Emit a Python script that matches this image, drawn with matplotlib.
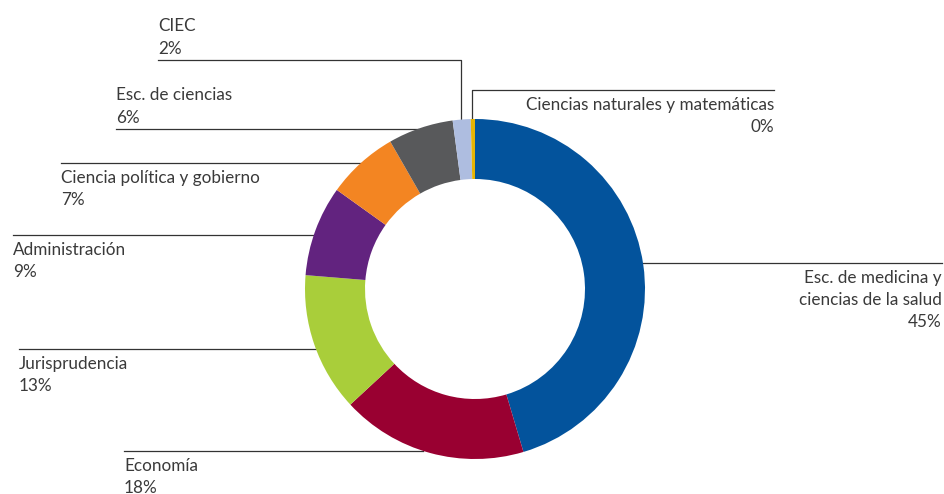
import matplotlib.pyplot as plt
import numpy as np

# faculty shares (%), clockwise from the top
categories = ["Esc. de medicina y\nciencias de la salud", "Economía", "Jurisprudencia",
              "Administración", "Ciencia política y gobierno", "Esc. de ciencias",
              "CIEC", "Ciencias naturales y matemáticas"]
shares = [45.4, 17.7, 13.2, 8.6, 6.8, 6.2, 1.7, 0.4]
colors = ["#03539c", "#990031", "#a9ce3a", "#62237f", "#f38522", "#58595b",
          "#aebde0", "#e6b404"]

plt.rcParams['font.family'] = ['Lato', 'DejaVu Sans']

W, H = 945, 494
cx, cy = 475, 289          # donut centre (pixels from top-left)
r_out, r_in = 170, 110
txt_col = "#3a3a3a"
line_col = "#333333"

fig = plt.figure(figsize=(W / 100, H / 100), dpi=100)
ax = fig.add_axes([0, 0, 1, 1])

ax.pie(shares, colors=colors, startangle=90, counterclock=False, radius=r_out,
       center=(cx, H - cy), wedgeprops=dict(width=r_out - r_in, linewidth=0))
ax.set_xlim(0, W)
ax.set_ylim(0, H)
ax.set_aspect('equal')
ax.axis('off')


def edge_x(y, side):
    # x where a horizontal line at pixel row y meets the outer ring
    return cx + side * np.sqrt(r_out ** 2 - (y - cy) ** 2)


def edge_y(x):
    return cy - np.sqrt(r_out ** 2 - (x - cx) ** 2)


# leader layout: line row, text x, alignment, text above/below, elbow x (or None)
layout = [
    (263, 942, 'right', 'below', None),
    (451, 124, 'left', 'below', None),
    (349, 19, 'left', 'below', None),
    (235, 13, 'left', 'below', None),
    (163, 61, 'left', 'below', None),
    (129, 116, 'left', 'above', None),
    (60, 158, 'left', 'above', 461),
    (90, 774, 'right', 'below', 472),
]

for name, val, (ly, tx, ha, side, elbow) in zip(categories, shares, layout):
    if elbow is None:
        if ha == 'left':
            xs = [tx, edge_x(ly, -1)]
        else:
            xs = [edge_x(ly, 1), tx]
        ax.plot(xs, [H - ly, H - ly], color=line_col, lw=0.9, zorder=0)
    else:
        ax.plot([tx, elbow, elbow], [H - ly, H - ly, H - edge_y(elbow)],
                color=line_col, lw=0.9, zorder=0)

    lines = name.split("\n") + [f"{val:.0f}%"]
    n = len(lines)
    for i, s in enumerate(lines):
        if side == 'below':
            by = ly + 20 + 22 * i
        else:
            by = ly - 6.5 - 22.5 * (n - 1 - i)
        ax.text(tx, H - by, s, ha=ha, va='baseline', fontsize=12.3, color=txt_col)

fig.savefig('out.png', dpi=100)
